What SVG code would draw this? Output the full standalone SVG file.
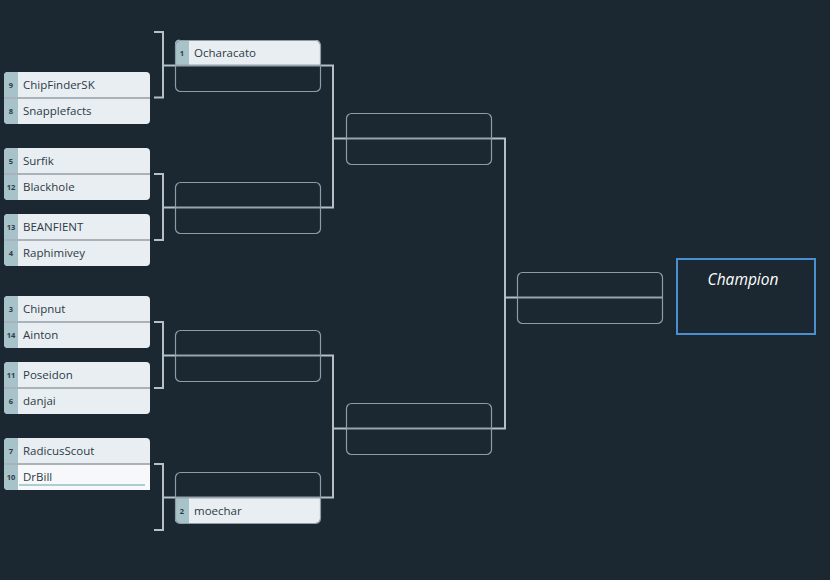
<svg xmlns="http://www.w3.org/2000/svg" width="830" height="580" viewBox="0 0 830 580">
<style>
.bg{fill:#1b2731}
.row{fill:#e9eef2}
.seed{fill:#a8c2ca}
.sep{stroke:#a9b2b8;stroke-width:2}
.box{fill:none;stroke:#8e9ca6;stroke-width:1.2}
.esep{stroke:#98a3ab;stroke-width:2}
.name{font-family:"Open Sans","Noto Sans",sans-serif;font-size:11.5px;fill:#2c3b46}
.num{font-family:"Open Sans","Noto Sans",sans-serif;font-size:7.5px;font-weight:bold;fill:#2c3b46;text-anchor:middle}
.conn{fill:none;stroke:#b7bfc5;stroke-width:2}
.champ{fill:none;stroke:#4a90d0;stroke-width:2}
.ctext{font-family:"Open Sans","Noto Sans",sans-serif;font-size:15.5px;font-style:italic;fill:#ffffff;text-anchor:middle}
</style>
<rect class="bg" x="0" y="0" width="830" height="580"/>

<g id="connectors">
<path class="conn" d="M154,32 H163 V97.5 H154 M163,65.5 H175"/>
<path class="conn" d="M154,174 H163 V240 H154 M163,207.5 H175"/>
<path class="conn" d="M154,322 H163 V388 H154 M163,355.5 H175"/>
<path class="conn" d="M154,464 H163 V530 H154 M163,497.5 H175"/>
<path class="conn" d="M320,65.5 H333 V207.5 H320 M333,138.5 H346"/>
<path class="conn" d="M320,355.5 H333 V497.5 H320 M333,428.5 H346"/>
<path class="conn" d="M491,138.5 H505 V428.5 H491 M505,297.5 H517"/>
</g>

<g id="r1m1">
<rect class="row" x="4" y="72" width="146" height="52" rx="4"/>
<path class="seed" d="M8,72 H18 V124 H8 A4,4 0 0 1 4,120 V76 A4,4 0 0 1 8,72 Z"/>
<line class="sep" x1="4" y1="98" x2="150" y2="98"/>
<text class="num" x="11" y="88">9</text><text class="name" x="23" y="89">ChipFinderSK</text>
<text class="num" x="11" y="114">8</text><text class="name" x="23" y="115">Snapplefacts</text>
</g>
<g id="r1m2">
<rect class="row" x="4" y="148" width="146" height="52" rx="4"/>
<path class="seed" d="M8,148 H18 V200 H8 A4,4 0 0 1 4,196 V152 A4,4 0 0 1 8,148 Z"/>
<line class="sep" x1="4" y1="174" x2="150" y2="174"/>
<text class="num" x="11" y="164">5</text><text class="name" x="23" y="165">Surfik</text>
<text class="num" x="11" y="190">12</text><text class="name" x="23" y="191">Blackhole</text>
</g>
<g id="r1m3">
<rect class="row" x="4" y="214" width="146" height="52" rx="4"/>
<path class="seed" d="M8,214 H18 V266 H8 A4,4 0 0 1 4,262 V218 A4,4 0 0 1 8,214 Z"/>
<line class="sep" x1="4" y1="240" x2="150" y2="240"/>
<text class="num" x="11" y="230">13</text><text class="name" x="23" y="231">BEANFIENT</text>
<text class="num" x="11" y="256">4</text><text class="name" x="23" y="257">Raphimivey</text>
</g>
<g id="r1m4">
<rect class="row" x="4" y="296" width="146" height="52" rx="4"/>
<path class="seed" d="M8,296 H18 V348 H8 A4,4 0 0 1 4,344 V300 A4,4 0 0 1 8,296 Z"/>
<line class="sep" x1="4" y1="322" x2="150" y2="322"/>
<text class="num" x="11" y="312">3</text><text class="name" x="23" y="313">Chipnut</text>
<text class="num" x="11" y="338">14</text><text class="name" x="23" y="339">Ainton</text>
</g>
<g id="r1m5">
<rect class="row" x="4" y="362" width="146" height="52" rx="4"/>
<path class="seed" d="M8,362 H18 V414 H8 A4,4 0 0 1 4,410 V366 A4,4 0 0 1 8,362 Z"/>
<line class="sep" x1="4" y1="388" x2="150" y2="388"/>
<text class="num" x="11" y="378">11</text><text class="name" x="23" y="379">Poseidon</text>
<text class="num" x="11" y="404">6</text><text class="name" x="23" y="405">danjai</text>
</g>
<g id="r1m6">
<rect class="row" x="4" y="438" width="146" height="52" rx="4"/>
<rect x="18" y="465" width="132" height="25" fill="#f6f8f9"/>
<path class="seed" d="M8,438 H18 V490 H8 A4,4 0 0 1 4,486 V442 A4,4 0 0 1 8,438 Z"/>
<line class="sep" x1="4" y1="464" x2="150" y2="464"/>
<line x1="19" y1="485" x2="145" y2="485" stroke="#5ea3aa" stroke-width="1"/>
<text class="num" x="11" y="454">7</text><text class="name" x="23" y="455">RadicusScout</text>
<text class="num" x="11" y="480">10</text><text class="name" x="23" y="481">DrBill</text>
</g>

<g id="r2m1">
<path class="row" d="M180,40 H316 A4,4 0 0 1 320,44 V65.5 H175 V44 A4,4 0 0 1 180,40 Z"/>
<path class="seed" d="M180,40 H189 V65.5 H175 V44 A4,4 0 0 1 180,40 Z"/>
<rect class="box" x="175.5" y="40.5" width="145" height="51" rx="5"/>
<line class="esep" x1="175" y1="65.5" x2="320" y2="65.5"/>
<text class="num" x="182" y="56">1</text><text class="name" x="194" y="57">Ocharacato</text>
</g>
<g id="r2m2">
<rect class="box" x="175.5" y="182.5" width="145" height="51" rx="5"/>
<line class="esep" x1="175" y1="207.5" x2="320" y2="207.5"/>
</g>
<g id="r2m3">
<rect class="box" x="175.5" y="330.5" width="145" height="51" rx="5"/>
<line class="esep" x1="175" y1="355.5" x2="320" y2="355.5"/>
</g>
<g id="r2m4">
<path class="row" d="M175,497.5 H320 V519 A4,4 0 0 1 316,523 H180 A4,4 0 0 1 175,519 Z"/>
<path class="seed" d="M175,497.5 H189 V523 H180 A4,4 0 0 1 175,519 Z"/>
<rect class="box" x="175.5" y="472.5" width="145" height="51" rx="5"/>
<line class="esep" x1="175" y1="497.5" x2="320" y2="497.5"/>
<text class="num" x="182" y="514">2</text><text class="name" x="194" y="515">moechar</text>
</g>

<g id="r3m1">
<rect class="box" x="346.5" y="113.5" width="145" height="51" rx="5"/>
<line class="esep" x1="346" y1="138.5" x2="491" y2="138.5"/>
</g>
<g id="r3m2">
<rect class="box" x="346.5" y="403.5" width="145" height="51" rx="5"/>
<line class="esep" x1="346" y1="428.5" x2="491" y2="428.5"/>
</g>

<g id="final">
<rect class="box" x="517.5" y="272.5" width="145" height="51" rx="5"/>
<line class="esep" x1="517" y1="297.5" x2="662" y2="297.5"/>
</g>

<g id="champion">
<rect class="champ" x="677" y="259" width="138" height="75"/>
<text class="ctext" x="743" y="285">Champion</text>
</g>
</svg>
